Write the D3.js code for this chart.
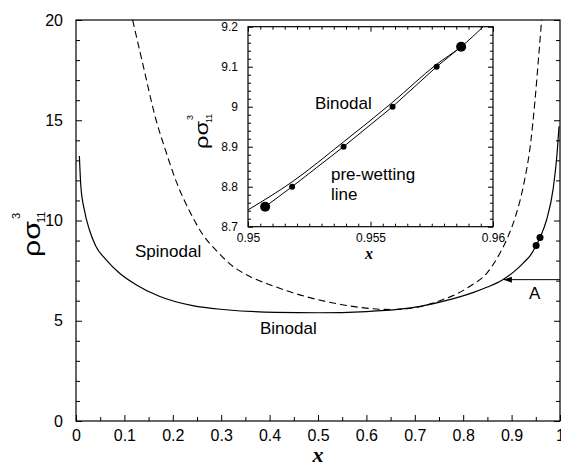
<!DOCTYPE html>
<html>
<head>
<meta charset="utf-8">
<script src="https://cdn.jsdelivr.net/npm/d3@7"></script>
<style>
  body { margin: 0; background: #fff; }
  svg { display: block; }
  text { font-family: "Liberation Sans", Arial, sans-serif; fill: #000; }
</style>
</head>
<body>
<svg id="chart" width="561" height="465"></svg>
<script>
// main panel: [x, rho*sigma^3]
const binodal = [
  [0.007, 13.22], [0.010, 11.72], [0.017, 10.55], [0.0275, 9.55], [0.041, 8.72],
  [0.062, 8.05], [0.0895, 7.38], [0.124, 6.8], [0.172, 6.22], [0.241, 5.75],
  [0.31, 5.55], [0.413, 5.42], [0.5, 5.40], [0.6, 5.46], [0.669, 5.58],
  [0.711, 5.72], [0.78, 6.1], [0.82, 6.4], [0.85, 6.68], [0.88, 7.02],
  [0.905, 7.45], [0.925, 7.9], [0.94, 8.3], [0.9507, 8.75], [0.9587, 9.15],
  [0.9725, 10.05], [0.986, 11.6], [0.9945, 13.5], [0.998, 14.7]
];
const spinodal = [
  [0.117, 20], [0.14, 17.6], [0.165, 15.05], [0.185, 13.5], [0.207, 11.95],
  [0.235, 10.45], [0.262, 9.3], [0.29, 8.5], [0.324, 7.72], [0.36, 7.2],
  [0.406, 6.75], [0.45, 6.38], [0.5, 6.05], [0.55, 5.8], [0.6, 5.63],
  [0.65, 5.56], [0.7, 5.65], [0.752, 6.0], [0.814, 6.72], [0.849, 7.38],
  [0.876, 8.38], [0.893, 9.22], [0.908, 10.2], [0.925, 11.8], [0.94, 14.0],
  [0.948, 15.9], [0.956, 18.2], [0.962, 20]
];
const wettingPoints = [[0.9507, 8.75], [0.9587, 9.15]];
const arrowA = [0.882, 7.05];
const xTickVals = [0, 0.1, 0.2, 0.3, 0.4, 0.5, 0.6, 0.7, 0.8, 0.9, 1];
const xTickLabels = ["0", "0.1", "0.2", "0.3", "0.4", "0.5", "0.6", "0.7", "0.8", "0.9", "1"];
const xMinorVals = [0.05, 0.15, 0.25, 0.35, 0.45, 0.55, 0.65, 0.75, 0.85, 0.95];
const yTickVals = [0, 5, 10, 15, 20];
const yTickLabels = ["0", "5", "10", "15", "20"];
const yMinorVals = [1, 2, 3, 4, 6, 7, 8, 9, 11, 12, 13, 14, 16, 17, 18, 19];

// inset
const insetBinodal = [
  [0.95, 8.742], [0.9518, 8.812], [0.9539, 8.912], [0.9559, 9.011],
  [0.9577, 9.106], [0.9587, 9.15], [0.9596, 9.2]
];
const prewetting = [
  [0.9507, 8.75], [0.9518, 8.8], [0.9539, 8.9], [0.9559, 9.0], [0.9577, 9.1], [0.9587, 9.15]
];
const insetXTicks = [0.95, 0.955, 0.96];
const insetXLabels = ["0.95", "0.955", "0.96"];
const insetYTicks = [8.7, 8.8, 8.9, 9, 9.1, 9.2];
const insetYLabels = ["8.7", "8.8", "8.9", "9", "9.1", "9.2"];

const svg = d3.select('#chart');
svg.append('rect').attr('width', 561).attr('height', 465).attr('fill', '#fff');

const plot = {left: 76, right: 560, top: 20, bottom: 421};
const x = d3.scaleLinear().domain([0, 1]).range([plot.left, plot.right]);
const y = d3.scaleLinear().domain([0, 20]).range([plot.bottom, plot.top]);

function styleAxis(g, size) {
  g.select('.domain').remove();
  g.attr('font-size', size).attr('font-family', '"Liberation Sans", Arial, sans-serif');
  g.selectAll('line').attr('stroke', '#000').attr('stroke-width', 1);
  g.selectAll('text').attr('fill', '#000');
}

// main axes
svg.append('g').attr('transform', `translate(0,${plot.bottom})`)
  .call(d3.axisBottom(x).tickValues(xTickVals).tickFormat((d, i) => xTickLabels[i])
    .tickSizeInner(-6).tickSizeOuter(0).tickPadding(9))
  .call(g => styleAxis(g, 16));
svg.append('g').attr('transform', `translate(0,${plot.bottom})`)
  .call(d3.axisBottom(x).tickValues(xMinorVals).tickFormat('').tickSize(-4))
  .call(g => styleAxis(g, 16));
svg.append('g').attr('transform', `translate(${plot.left},0)`)
  .call(d3.axisLeft(y).tickValues(yTickVals).tickFormat((d, i) => yTickLabels[i])
    .tickSizeInner(-6).tickSizeOuter(0).tickPadding(13))
  .call(g => styleAxis(g, 16));
svg.append('g').attr('transform', `translate(${plot.left},0)`)
  .call(d3.axisLeft(y).tickValues(yMinorVals).tickFormat('').tickSize(-4))
  .call(g => styleAxis(g, 16));
svg.append('g').attr('transform', `translate(${plot.right},0)`)
  .call(d3.axisRight(y).tickValues(yTickVals).tickFormat('').tickSize(-6))
  .call(g => styleAxis(g, 16));
svg.append('g').attr('transform', `translate(${plot.right},0)`)
  .call(d3.axisRight(y).tickValues(yMinorVals).tickFormat('').tickSize(-4))
  .call(g => styleAxis(g, 16));

// curves
const line = d3.line().x(d => x(d[0])).y(d => y(d[1])).curve(d3.curveMonotoneX);
svg.append('path').datum(binodal)
  .attr('fill', 'none').attr('stroke', '#000').attr('stroke-width', 1.2).attr('d', line);
svg.append('path').datum(spinodal)
  .attr('fill', 'none').attr('stroke', '#000').attr('stroke-width', 1.1)
  .attr('stroke-dasharray', '7,4').attr('d', line);

svg.selectAll('.wdot').data(wettingPoints).enter().append('circle')
  .attr('class', 'wdot')
  .attr('cx', d => x(d[0])).attr('cy', d => y(d[1])).attr('r', 3.5).attr('fill', '#000');

// arrow A
const ax = x(arrowA[0]) + 1, ay = y(arrowA[1]);
svg.append('line')
  .attr('x1', x(1)).attr('y1', ay).attr('x2', ax).attr('y2', ay)
  .attr('stroke', '#000').attr('stroke-width', 1);
svg.append('path')
  .attr('d', `M${ax},${ay} L${ax + 8},${ay - 3} L${ax + 8},${ay + 3} Z`)
  .attr('fill', '#000');
svg.append('text').attr('x', 529).attr('y', 299).attr('font-size', 17).text('A');

// labels
svg.append('text').attr('x', 135).attr('y', 257).attr('font-size', 17).text('Spinodal');
svg.append('text').attr('x', 260).attr('y', 334).attr('font-size', 17).text('Binodal');

// frame
svg.append('rect')
  .attr('x', plot.left).attr('y', plot.top)
  .attr('width', plot.right - plot.left).attr('height', plot.bottom - plot.top)
  .attr('fill', 'none').attr('stroke', '#000').attr('stroke-width', 1.2);

// axis titles
svg.append('text').attr('x', 318).attr('y', 462).attr('text-anchor', 'middle')
  .style('font-family', '"Liberation Serif", "Times New Roman", serif')
  .style('font-style', 'italic').style('font-weight', 'bold').attr('font-size', 22).text('x');

function rhoSigma(g, size, len, sub, sup, subSize) {
  g.append('text').attr('x', 0).attr('y', 0).attr('font-size', size)
    .attr('textLength', len).attr('lengthAdjust', 'spacingAndGlyphs').text('ρσ');
  g.append('text').attr('x', sub[0]).attr('y', sub[1]).attr('font-size', subSize).text('11');
  g.append('text').attr('x', sup[0]).attr('y', sup[1]).attr('font-size', subSize).text('3');
}
rhoSigma(svg.append('g').attr('transform', 'translate(40,257) rotate(-90)'),
  24, 36, [34, 5], [38, -20], 11);

// inset
const inset = {left: 248, right: 493, top: 26.7, bottom: 226.7};
const ix = d3.scaleLinear().domain([0.95, 0.96]).range([inset.left, inset.right]);
const iy = d3.scaleLinear().domain([8.7, 9.2]).range([inset.bottom, inset.top]);
const ixMinor = d3.range(0, 21).map(i => 0.95 + i * 0.0005).filter(v => !insetXTicks.some(t => Math.abs(t - v) < 1e-7));
const iyMinor = d3.range(0, 26).map(i => 8.7 + i * 0.02).filter(v => !insetYTicks.some(t => Math.abs(t - v) < 1e-7));

svg.append('rect')
  .attr('x', inset.left).attr('y', inset.top)
  .attr('width', inset.right - inset.left).attr('height', inset.bottom - inset.top)
  .attr('fill', '#fff');

svg.append('g').attr('transform', `translate(0,${inset.bottom})`)
  .call(d3.axisBottom(ix).tickValues(insetXTicks).tickFormat((d, i) => insetXLabels[i])
    .tickSizeInner(-5).tickSizeOuter(0).tickPadding(7))
  .call(g => styleAxis(g, 12));
svg.append('g').attr('transform', `translate(0,${inset.bottom})`)
  .call(d3.axisBottom(ix).tickValues(ixMinor).tickFormat('').tickSize(-3))
  .call(g => styleAxis(g, 12));
svg.append('g').attr('transform', `translate(0,${inset.top})`)
  .call(d3.axisTop(ix).tickValues(insetXTicks).tickFormat('').tickSize(-5))
  .call(g => styleAxis(g, 12));
svg.append('g').attr('transform', `translate(0,${inset.top})`)
  .call(d3.axisTop(ix).tickValues(ixMinor).tickFormat('').tickSize(-3))
  .call(g => styleAxis(g, 12));
svg.append('g').attr('transform', `translate(${inset.left},0)`)
  .call(d3.axisLeft(iy).tickValues(insetYTicks).tickFormat((d, i) => insetYLabels[i])
    .tickSizeInner(-5).tickSizeOuter(0).tickPadding(10))
  .call(g => styleAxis(g, 12));
svg.append('g').attr('transform', `translate(${inset.left},0)`)
  .call(d3.axisLeft(iy).tickValues(iyMinor).tickFormat('').tickSize(-3))
  .call(g => styleAxis(g, 12));
svg.append('g').attr('transform', `translate(${inset.right},0)`)
  .call(d3.axisRight(iy).tickValues(insetYTicks).tickFormat('').tickSize(-5))
  .call(g => styleAxis(g, 12));
svg.append('g').attr('transform', `translate(${inset.right},0)`)
  .call(d3.axisRight(iy).tickValues(iyMinor).tickFormat('').tickSize(-3))
  .call(g => styleAxis(g, 12));

const iline = d3.line().x(d => ix(d[0])).y(d => iy(d[1])).curve(d3.curveMonotoneX);
svg.append('path').datum(insetBinodal)
  .attr('fill', 'none').attr('stroke', '#000').attr('stroke-width', 1).attr('d', iline);
svg.append('path').datum(prewetting)
  .attr('fill', 'none').attr('stroke', '#000').attr('stroke-width', 1)
  .attr('d', d3.line().x(d => ix(d[0])).y(d => iy(d[1])));
svg.selectAll('.pdot').data(prewetting).enter().append('circle')
  .attr('class', 'pdot')
  .attr('cx', d => ix(d[0])).attr('cy', d => iy(d[1]))
  .attr('r', (d, i) => (i === 0 || i === prewetting.length - 1) ? 5 : 3)
  .attr('fill', '#000');

svg.append('text').attr('x', 315).attr('y', 109).attr('font-size', 17).text('Binodal');
svg.append('text').attr('x', 331).attr('y', 180).attr('font-size', 17).text('pre-wetting');
svg.append('text').attr('x', 331).attr('y', 200).attr('font-size', 17).text('line');

svg.append('rect')
  .attr('x', inset.left).attr('y', inset.top)
  .attr('width', inset.right - inset.left).attr('height', inset.bottom - inset.top)
  .attr('fill', 'none').attr('stroke', '#000').attr('stroke-width', 1.2);

svg.append('text').attr('x', 369).attr('y', 259).attr('text-anchor', 'middle')
  .style('font-family', '"Liberation Serif", "Times New Roman", serif')
  .style('font-style', 'italic').style('font-weight', 'bold').attr('font-size', 16).text('x');

rhoSigma(svg.append('g').attr('transform', 'translate(208,149) rotate(-90)'),
  18, 28, [26, 4], [29, -15], 9);
</script>
</body>
</html>
